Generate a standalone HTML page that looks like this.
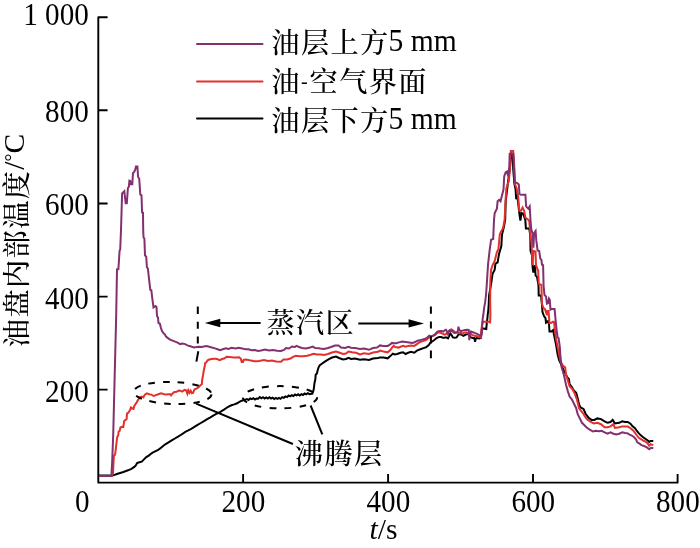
<!DOCTYPE html>
<html><head><meta charset="utf-8">
<style>
html,body{margin:0;padding:0;background:#fff;}
body{width:700px;height:548px;overflow:hidden;position:relative;}
svg{position:absolute;left:0;top:0;}
.t{font-family:"Liberation Serif","Noto Serif CJK SC",serif;font-size:29.6px;fill:#000;}
.c{font-family:"Liberation Serif","Noto Serif CJK SC",serif;font-size:28.2px;letter-spacing:1.4px;font-weight:500;fill:#000;}
.l{font-size:29.6px;letter-spacing:0;font-weight:400;}
.y{font-family:"Liberation Serif","Noto Serif CJK SC",serif;font-size:28.2px;letter-spacing:1.4px;font-weight:500;fill:#000;}
.yl{font-size:29.6px;letter-spacing:0;font-weight:400;}
</style></head>
<body>
<svg width="700" height="548" viewBox="0 0 700 548">
<g fill="none" stroke-linejoin="miter" stroke-linecap="butt">
<!-- axes -->
<path d="M107.6,17.2 H98.3 V482.65 H677.6 V474" stroke="#000" stroke-width="1.9" stroke-linejoin="round"/>
<path d="M98.3,110.3 H107.6 M98.3,203.5 H107.6 M98.3,296.6 H107.6 M98.3,389.6 H107.6" stroke="#000" stroke-width="1.9"/>
<path d="M243.1,482.6 V474 M388.1,482.6 V474 M533,482.6 V474" stroke="#000" stroke-width="1.9"/>
<!-- data -->
<polyline points="99,475.6 111.9,475.6 113.1,475.4 117.7,473.7 123.4,472 128,470.3 131.4,468.9 134.3,466.9 136,465.1 137.1,463.1 139.4,462.3 141.7,461.7 144,459.4 146.3,457.1 149.1,455.4 150,454.5 152.6,452.6 155.1,451.3 157.7,450.2 160.2,448.4 162.8,446.2 165.3,444.3 168.5,442.4 171.7,440.4 174.9,438.5 178.1,436.6 180.7,435 183.2,433.4 185.8,431.5 188.3,430.3 191.2,428.8 194.4,426.8 197.6,424.9 200.8,423 204,421.1 207.2,419.2 210.4,417.3 213.6,415.3 216.8,413.7 219.3,412.5 221.9,410.9 224.4,409.3 226.3,408 228.6,406.7 231.4,405.3 234.3,404.4 237.1,403.3 239.4,401.9 241.7,400.7 244,400.1 247,399.12 248.6,400.05 250.2,398.38 251.8,399.2 253.4,398.21 255,399.45 256.6,398.45 258.2,398.76 259.8,397.15 261.4,398.3 263,397.25 264.6,398.44 266.2,397.38 267.8,398.47 269.4,397.26 271,398.47 272.6,397.62 274.2,398.98 275.8,397.85 277.4,398.88 279,397.86 280.6,398.84 282.2,397.13 283.8,397.83 285.4,396.41 287,397.14 288.6,395.57 290.2,396.38 291.8,395.23 293.4,396.01 295,394.5 296.6,395.33 298.2,394.32 299.8,395.46 301.4,394.14 303,394.98 304.6,393.53 306.2,394.33 307.8,393.13 309.4,394.15 312.4,393.6 312.8,392.4 313.7,389.5 314.5,382.9 315.3,379.6 315.7,374.7 316.9,373.5 317.8,369.8 318.6,367.3 319.8,365.3 321.5,364 323.1,362.8 325.6,361.2 328.9,359.1 332.1,357.5 336,356.6 339,358 343,359.5 346,359 348.5,357.8 351,359 355,358.5 360,359.8 364,359.2 369,360 373,358.5 378,358 380,357.4 383.4,357.4 387.7,358.3 390.3,356.1 392.9,353.6 394.6,354.4 397.1,354 400.6,352.7 403.1,352.3 405.7,354 408.3,352.7 410.9,351.9 414.3,352.7 416.9,350.6 420.3,349.3 422.8,348.4 426.3,347.1 428.8,345 430.1,342.9 431.4,342 434,340.3 436.6,338.1 439.1,336.9 441.1,337.1 442.9,337.7 444.6,337.7 445.7,337.4 446.9,337.7 448,338.3 449.1,336.3 450.3,333.4 451.1,334.3 452,335.7 452.9,337.4 454.9,337.7 456.6,337.4 457.7,335.7 458.9,334 460,334.4 461.6,334.7 463.3,335.8 464.9,335 466.6,334.2 468.2,333.9 471,337.5 472.6,338 474.2,338 475.1,341.8 475.6,339.1 476.4,338 478.1,338.3 479.4,338.5 480.8,338 481.8,331 482.5,328.5 483.5,328.4 486.3,329 486.8,322.7 487.4,318.3 487.7,315 488.3,310 488.7,304.6 489.1,295 491.1,284.2 492.5,274 494.7,269.6 495.4,263.8 497.6,262.3 499.1,253.6 501.3,246.3 502,234.6 503.5,228.8 505.2,220 505.7,201.3 507.8,183.8 510,167.7 511.2,153.9 512.7,153.9 513.2,169.2 514.4,183.8 515.6,189.6 516.2,199.1 517.3,195.5 519.3,213 520.4,220.7 521.5,213 523,213.5 525.3,219.6 525.9,228.4 529.2,228.4 529.7,231.6 530.3,236 530.5,250.7 531.9,255 532.7,268.2 533.4,272.6 534.9,265.3 535.6,275.5 537,276.9 538.5,285.7 538.7,295.5 541,295.5 542,305.1 542.5,312.1 544,316.1 545.5,318.1 546,322.6 548,321.1 549,324.1 549.5,331.6 551.5,331.6 553.1,330.1 554.1,335.2 555.1,340 556.2,345.5 557.6,354.2 559.1,360.1 561,364 563,368.8 565.2,373.1 567.4,377.5 568.9,379 569.6,384.1 571.8,387 574,390.7 576.2,392.8 577.6,398 579.1,404.5 580.5,407.4 583.5,408.9 585.7,414 588.6,417.7 591.5,419.9 594.4,419.9 597.3,418.4 601,419.1 604.6,421.3 607.6,422.8 610.5,422 612.7,419.9 614.9,423.5 619.2,422.8 622.2,421.3 625,421.9 627.7,421.9 630.5,423.7 632.3,426 635,428.2 636.9,431 638.7,433.2 640.5,435.1 643.2,437.3 646,439.2 647.8,440.5 649.2,441.9 650.5,441 653.3,441" stroke="#000" stroke-width="2"/>
<polyline points="111.6,476 111.9,475.7 113,472.8 113.9,455.5 115.1,454.7 116.3,444.9 117.1,437.5 118.3,435 118.6,431.5 119.7,430.8 120.4,427.5 121.9,426.8 123.3,427.1 124.1,421.3 125.5,419.8 126.6,419.1 127,413.6 128.4,412.5 129.9,410.3 131,407.4 132.5,408.5 133.5,408.9 134.3,406 135.7,403.8 136.8,402.3 137.9,400.1 138.7,399 140.1,397.2 141.7,396.6 143.4,397.4 144.6,394.9 146.9,393.4 149.1,394.3 151.4,394.6 153.7,396 156,395.1 158.9,394 161.1,393.3 163.4,394 165.7,394.6 168.6,394.3 170.3,394.3 171.1,395.4 172.6,393.4 174.3,392 176.6,391.7 178.9,390.6 180.5,390.7 182.1,391.6 184.6,389.9 186.2,390.3 187.4,393.6 188.3,390.3 189.5,392.8 190.7,390.7 192,393.2 193.2,392.8 194.4,389.5 196.9,388.3 198.9,387 200.2,385.4 201.8,384.2 202.2,379.6 203,375.5 203.9,369.8 204.7,366.5 205.1,363.2 206.3,362.4 207.6,360.3 209.2,359.5 211.7,359.1 214.1,358.7 215.8,358.7 217.6,359.3 219.8,360.2 222.1,359 224.6,358.3 226.6,356.7 229.8,357 233.6,357.4 236.2,357.4 239.1,357.2 240.7,358.6 241.7,361.9 243,361.9 243.6,359.9 245.8,359.6 248.4,359.9 251,360.6 254.2,361.2 257.4,361.2 259,361 264,360 268,361 272,360.5 276,361.5 281,361.8 283.5,359.5 287,359.5 290.5,358.5 293,356.8 296,355.8 299,356.2 303,356.2 307,355.8 310,355 313.5,353.8 317,354.5 321,354.5 324,355 328,354 332,352.5 336,351.5 339,352.5 343,354 346,353.5 348.5,351.5 352,352.2 356,352.8 360,354.5 364,353.2 369,354 373,352.5 378,351.8 380,350.6 383.4,351.4 387.7,352.3 390.3,350.1 392.4,347.1 393.7,345.9 395.4,347.1 398.4,347.6 400.6,346.7 403.1,345.9 405.7,346.7 408.3,345.9 410.9,345.4 414.3,345.9 416.9,344.1 419.4,342.4 422.8,341.1 426.3,339.9 428.8,337.7 431.5,336.6 434.8,335.1 437.5,332.6 440,332.6 442.3,333.7 444.6,334.6 445.7,334.3 448,332 449.7,330 451.4,329.4 453.1,330.6 454.9,332 457.1,332.6 459.4,333.2 460,333 462.2,333.6 464.4,332.6 466,332.4 467.4,333 468.8,334 471,333.9 472.6,335.3 474.2,335.5 475.9,336.1 478.1,336.4 479.7,336.9 481.1,337.7 481.3,330.3 482.5,322 484.1,321.8 489.6,321.6 490.1,323.2 490.4,315 490.2,300 490.3,281.3 491.1,269.6 492.5,265.3 494.7,260.9 496.9,252.1 498.4,249.2 499.8,234.6 501,231.7 502.7,228.8 503.5,225.8 504.6,220 505.7,198.4 506.4,188.2 507.8,183.8 508.9,180.9 510,166.3 510.8,151 513.2,151 513.7,156.1 514.4,169.2 515.1,184.5 516.6,188.2 518.2,196.6 519.3,210.8 521,210.8 522.6,207.5 524.2,210.8 525.3,217.4 527,219 528.1,219.6 529.2,220.7 529.7,226.2 530.3,233.8 531.4,242.6 531.9,250.7 532.5,265 533.5,251 535.5,251.5 536,265.2 537.6,269.6 538.2,270.7 538.7,283.8 541.4,284.9 542,304.1 543.5,308.1 545,309.1 546,312.1 547,315.1 547.5,311.1 548.5,311.1 549.5,323.1 551,323.1 553.1,321.6 554.1,322.1 555.1,332.1 556.1,339.2 557.6,346.9 559.1,354.2 560.5,361.5 563,365.8 565.2,367.3 566,374.6 568.1,381.2 569.6,386.3 572.5,389.2 574.7,393.6 576.9,399.4 579.1,408.2 581.3,411.1 583.5,414 585.7,417.7 587.8,419.9 590.8,422 593.7,423.5 597.3,422.8 601,424.2 604.6,427.2 607.6,427.2 610.5,426.4 613.4,424.2 614.9,427.9 619.2,427.2 622.2,426.4 625,426.4 627.7,426.4 630.5,428.2 633.2,430.5 635,432.8 636.9,435.5 638.7,437.8 641,439.2 643.2,440.5 646,441.9 647.8,443.7 649.2,445.6 650.5,444.2 653.3,445.1" stroke="#E4302A" stroke-width="2"/>
<polyline points="99,476 111.4,476 112.2,461.3 113.2,435 114.2,395 116.2,315 117,269.4 118.4,269.1 119.6,250.4 120.2,249.7 121,230 122.1,193.5 124.3,191.2 125.7,203.3 126.8,203.3 127.9,188.2 128.9,186.5 129.4,180.7 130.3,181 130.8,184.3 132.3,184.3 133,173 134.2,171.9 135.2,169.7 136,166.4 137.4,166.4 138.1,177 139.2,178.5 140.3,194.5 141.5,195.3 142.1,212.5 143,212.8 143.2,230 143.5,237.3 144.4,238.8 145,255.5 146.2,256.3 146.9,267.2 147.9,268.7 149.1,279.6 150.3,289.9 151.3,290.1 152.5,300 153.5,307.5 155.5,306 156.5,307 157,316 158,317.6 158.5,323.1 159.8,323.6 161,328.1 162,331.1 163.5,333.1 165,334.6 166,336.6 168,338.1 170,339.6 172.6,340.6 175.1,341.6 177.6,342.6 180.1,344.1 182.6,343.6 185.1,344.1 188,345.6 189.7,346 194.1,347.4 198.4,346.7 201.4,347 206.5,346 210.1,347 215,348.4 217.6,349.3 220.1,350.3 222.7,349.3 225.9,348.4 228.5,349 231.7,347.7 235.6,348.4 238.8,347.7 242,348.4 245.2,349.3 248.4,349.3 251.6,350.3 254.8,350 258,351 261,350.5 265,349.5 269,350.5 273,350 277,350.8 281,351 284,350 286,348 289,348.5 292,346.5 295,347 296.5,345.8 299,347 302,348 306,348.5 310,347.5 313,346.5 315,348 319,348.3 320,348.5 324,349 328,348 331,347 335,345.5 338.5,345.5 341,347.5 345,348 348.5,346.8 351,347.8 355,348 360,349 364,348.5 369,349.8 373,348 377,347.5 380,345.4 383.4,345.9 387.7,345.9 389.9,344.6 392,342.9 394.1,343.3 396.3,343.3 398.9,342.4 402.3,341.6 405.7,342 409.1,342.4 412.6,342.9 415.1,342 417.7,340.7 421.1,339.9 424.6,339 427.6,337.3 429.3,335.6 431.4,336.4 434.8,334.7 437.4,331.7 440,330.9 441.7,331.1 443.4,331.7 444.6,330.3 446,329.7 446.9,331.7 448,334.3 448.6,331.4 449.7,330.6 450.9,331.4 452,330.6 453.1,332 454.3,332.9 456,332.8 457.7,331.6 458.5,326.6 459.1,329.8 460,330.4 460.9,331.9 461.8,330.6 463.2,330.5 465,330 466.9,329.8 468.7,330 469.3,340.2 470.1,333.1 471,331.4 472,332 473.7,332.5 475.3,333.1 477,333.9 478.6,334.7 480.3,335.5 481.1,336.1 481.6,333.6 481.9,328.7 482.5,322.1 482.7,318.3 483.3,315 484.2,307.3 485.1,302.7 486,295 486.7,285.7 488.1,263.8 489.6,250.7 491.1,239.7 493.2,239 494,220 494.7,213 496.9,208.6 497.6,201.3 499.1,199.9 500.5,201.3 502,195.5 503.5,189.6 504.2,176.5 505.7,172.1 507.1,171.4 508.3,176.5 509.3,166.3 509.7,153.9 511.5,153.1 513.2,153.9 514.1,169.2 514.7,182.3 517.3,183.1 518.8,184.5 519.5,194 521,194.7 525.4,194.7 526.1,206.4 528.3,208.6 529.7,206.4 530.5,220 531.2,228.8 532.7,234.6 533.4,247.7 534.1,233.1 535.6,230.9 536.3,240.4 537.6,250.4 539.2,251 540.3,258.6 541.4,259.7 542,264.7 543.1,265.2 543.6,286 544.5,295 546,296.5 547,303.6 548,303 549,298.5 549.8,300 550.5,309.6 551.5,309.1 554.6,309.1 555.6,320.1 556.6,330.1 557.6,337.2 558.6,338.2 559.8,346.9 560.5,357.2 561.6,367.3 563,371.7 564.5,377.5 566,384.8 568.1,392.1 569.6,396.5 571.8,399.4 574,403.8 576.2,408.2 577.6,414 579.8,418.4 582,422.8 584.2,425 586.4,427.2 589.3,429.3 593,431.5 595.9,430.8 598.8,431.2 601.7,430.8 604.6,432.3 607.6,433.7 610.5,432.3 613.4,433.7 616.3,434.5 619.2,433.7 622.2,432.3 625.1,433 627.3,433.2 629.6,434.6 631.8,435.5 634.1,437.3 635.9,439.2 637.3,442.4 639.6,443.7 641.4,445.1 644.1,446 646.9,447.4 649.2,449.2 651,447.8 653.3,448.3" stroke="#82306F" stroke-width="2"/>
<!-- dashed markers -->
<path d="M197.8,306.4 V314 M197.8,321.7 V328.7 M197.8,336.4 V343.4 M198.3,351.2 L196.4,361.6" stroke="#000" stroke-width="2"/>
<path d="M430.9,306.4 V313.8 M430.9,321.4 V328.6 M430.9,336.2 V343.4 M430.9,350.6 V358.2" stroke="#000" stroke-width="2"/>
<ellipse cx="172.6" cy="393" rx="38.9" ry="11" transform="rotate(2 172.6 393)" stroke="#000" stroke-width="2" stroke-dasharray="6.6 8"/>
<ellipse cx="280" cy="397.25" rx="37.2" ry="11.15" stroke="#000" stroke-width="2" stroke-dasharray="6.75 8.2" stroke-dashoffset="0.5"/>
<!-- arrows -->
<path d="M218,323 H260.6 M358.3,323.4 H410" stroke="#000" stroke-width="2"/>
<!-- pointers -->
<path d="M196.1,403.7 L292.9,444 M310.6,405.5 L322.3,434.4" stroke="#000" stroke-width="2"/>
<!-- legend lines -->
<path d="M197,43.9 H262.5" stroke-linecap="round" stroke="#82306F" stroke-width="2"/>
<path d="M197,81.4 H262.5" stroke-linecap="round" stroke="#E4302A" stroke-width="2"/>
<path d="M197,118.4 H262.5" stroke-linecap="round" stroke="#000" stroke-width="2"/>
</g>
<path d="M204.8,323 L220.3,318.8 L220.3,327.2 Z M424,323.4 L408.6,319.3 L408.6,327.4 Z" fill="#000"/>
<!-- tick labels -->
<g class="t" text-anchor="end">
<text transform="translate(88.8,25.3) scale(0.985,1.035)">1 000</text>
<text transform="translate(88.8,122.3) scale(0.985,1.035)">800</text>
<text transform="translate(88.8,215.4) scale(0.985,1.035)">600</text>
<text transform="translate(88.8,308.5) scale(0.985,1.035)">400</text>
<text transform="translate(88.8,401.5) scale(0.985,1.035)">200</text>
</g>
<g class="t" text-anchor="middle">
<text transform="translate(82.3,512.3) scale(0.985,1.035)">0</text>
<text transform="translate(243.4,512.3) scale(0.985,1.035)">200</text>
<text transform="translate(388.4,512.3) scale(0.985,1.035)">400</text>
<text transform="translate(533.3,512.3) scale(0.985,1.035)">600</text>
<text transform="translate(677.9,512.3) scale(0.985,1.035)">800</text>
</g>
<text class="t" x="369.5" y="539.2"><tspan font-style="italic">t</tspan>/s</text>
<text class="y" transform="translate(27.4,240.4) rotate(-90)" text-anchor="middle">油盘内部温度<tspan class="yl" dy="-3">/</tspan><tspan class="yl" style="font-size:20px" dy="-5">°</tspan><tspan class="yl" dy="5">C</tspan></text>
<g class="c">
<text x="271.3" y="53">油层上方</text>
<text class="l" transform="translate(388.5,50.7) scale(1,1.04)">5 mm</text>
<text x="271.3" y="92">油<tspan class="l" style="font-size:20px" dy="-4.2">-</tspan><tspan dy="4.2" dx="2">空气界面</tspan></text>
<text x="271.3" y="131.2">油层下方</text>
<text class="l" transform="translate(388.5,129.2) scale(1,1.04)">5 mm</text>
<text x="266.4" y="332.5">蒸汽区</text>
<text x="294.8" y="463.7">沸腾层</text>
</g>
</svg>
</body></html>
